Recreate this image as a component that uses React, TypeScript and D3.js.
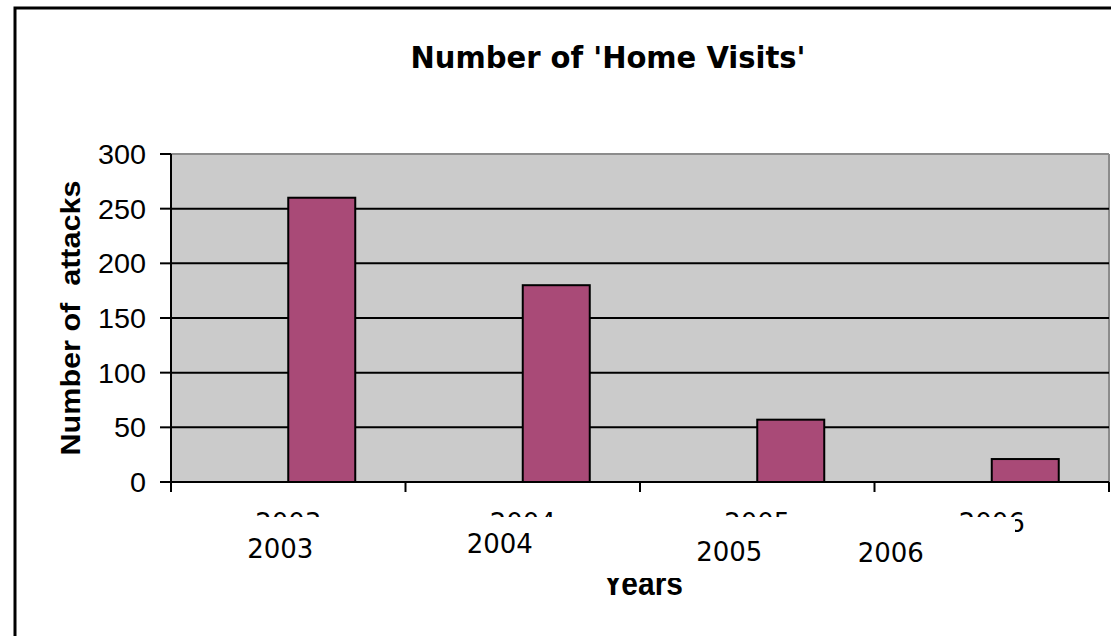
import * as d3 from 'd3';

const years = ['2003', '2004', '2005', '2006'];
const attacks = [260, 180, 57, 21];
const seriesKeys = ['blank', 'attacks'];
const yTicks = [0, 50, 100, 150, 200, 250, 300];
// the stray, misplaced year labels seen under the axis (offset from band centre)
const labelNudgeX = [-8, -23, -28, -101];
const labelBaseline = [558, 553, 561, 562];

const W = 1111;
const H = 636;
const margin = { top: 154, right: 2, bottom: 154, left: 171 };

export default function App() {
  const x0 = margin.left;
  const x1 = W - margin.right;
  const yBottom = H - margin.bottom;

  const x = d3.scaleBand<string>().domain(years).range([x0, x1]).padding(0);
  const xSub = d3
    .scaleBand<string>()
    .domain(seriesKeys)
    .range([0, x.bandwidth()])
    .paddingInner(0)
    .paddingOuter(0.75);
  const y = d3.scaleLinear().domain([0, 300]).range([yBottom, margin.top]);

  const tickFont = "'Liberation Sans', Arial, sans-serif";
  const catFont = "'DejaVu Sans', sans-serif";

  return (
    <svg
      width={W}
      height={H}
      style={{ position: 'absolute', left: 0, top: 0, background: '#fff' }}
    >
      <defs>
        <clipPath id="cutLabels">
          <rect x={0} y={505} width={W} height={12} />
          <rect x={1015} y={505} width={20} height={34} />
        </clipPath>
        <clipPath id="cutTitle">
          <rect x={0} y={578} width={W} height={40} />
        </clipPath>
      </defs>

      {/* chart frame */}
      <rect x={15} y={8} width={W + 20} height={H + 20} fill="none" stroke="#000" strokeWidth={3} />

      <text
        x={608}
        y={68}
        textAnchor="middle"
        fontFamily="'DejaVu Sans Condensed', 'DejaVu Sans', sans-serif"
        fontStretch="condensed"
        fontWeight="bold"
        fontSize={31}
        textLength={395}
        lengthAdjust="spacingAndGlyphs"
      >
        Number of 'Home Visits'
      </text>

      {/* plot area */}
      <rect x={x0} y={margin.top} width={x1 - x0} height={yBottom - margin.top} fill="#cbcbcb" />
      <line x1={x0} x2={x1} y1={y(300)} y2={y(300)} stroke="#8c8c8c" strokeWidth={2} />
      <line x1={x1} x2={x1} y1={y(300)} y2={yBottom} stroke="#8c8c8c" strokeWidth={2} />

      {yTicks
        .filter((t) => t > 0 && t < 300)
        .map((t) => (
          <line key={t} x1={x0} x2={x1} y1={y(t)} y2={y(t)} stroke="#000" strokeWidth={2} />
        ))}

      {years.map((yr, i) => (
        <rect
          key={yr}
          x={(x(yr) ?? 0) + (xSub('attacks') ?? 0)}
          y={y(attacks[i])}
          width={xSub.bandwidth()}
          height={yBottom - y(attacks[i])}
          fill="#a94a77"
          stroke="#000"
          strokeWidth={2}
        />
      ))}

      {/* y axis */}
      <line x1={x0} x2={x0} y1={y(300)} y2={yBottom} stroke="#000" strokeWidth={2} />
      {yTicks.map((t) => (
        <g key={t}>
          <line x1={x0 - 11} x2={x0} y1={y(t)} y2={y(t)} stroke="#000" strokeWidth={2} />
          <text
            x={x0 - 25}
            y={y(t) + 10}
            textAnchor="end"
            fontFamily={tickFont}
            fontSize={28}
            textLength={t >= 100 ? 48 : t >= 10 ? 32 : 16}
            lengthAdjust="spacingAndGlyphs"
          >
            {t}
          </text>
        </g>
      ))}
      <text
        transform={`translate(80,${(y(300) + yBottom) / 2}) rotate(-90)`}
        textAnchor="middle"
        fontFamily={tickFont}
        fontWeight="bold"
        fontSize={27}
        textLength={275}
        lengthAdjust="spacingAndGlyphs"
        style={{ whiteSpace: 'pre' }}
      >
        Number of  attacks
      </text>

      {/* x axis */}
      <line x1={x0 - 11} x2={x1} y1={yBottom} y2={yBottom} stroke="#000" strokeWidth={2} />
      {[...years.map((yr) => x(yr) ?? 0), x1].map((px, i) => (
        <line key={i} x1={px} x2={px} y1={yBottom} y2={yBottom + 10} stroke="#000" strokeWidth={2} />
      ))}

      <g clipPath="url(#cutLabels)">
        {years.map((yr) => (
          <text
            key={yr}
            x={(x(yr) ?? 0) + x.bandwidth() / 2}
            y={532}
            textAnchor="middle"
            fontFamily={catFont}
            fontSize={26}
          >
            {yr}
          </text>
        ))}
      </g>
      {years.map((yr, i) => (
        <text
          key={yr}
          x={(x(yr) ?? 0) + x.bandwidth() / 2 + labelNudgeX[i]}
          y={labelBaseline[i]}
          textAnchor="middle"
          fontFamily={catFont}
          fontSize={26}
        >
          {yr}
        </text>
      ))}

      <g clipPath="url(#cutTitle)">
        <text
          x={643}
          y={595}
          textAnchor="middle"
          fontFamily={tickFont}
          fontWeight="bold"
          fontSize={33}
          textLength={80}
          lengthAdjust="spacingAndGlyphs"
        >
          Years
        </text>
      </g>
    </svg>
  );
}
